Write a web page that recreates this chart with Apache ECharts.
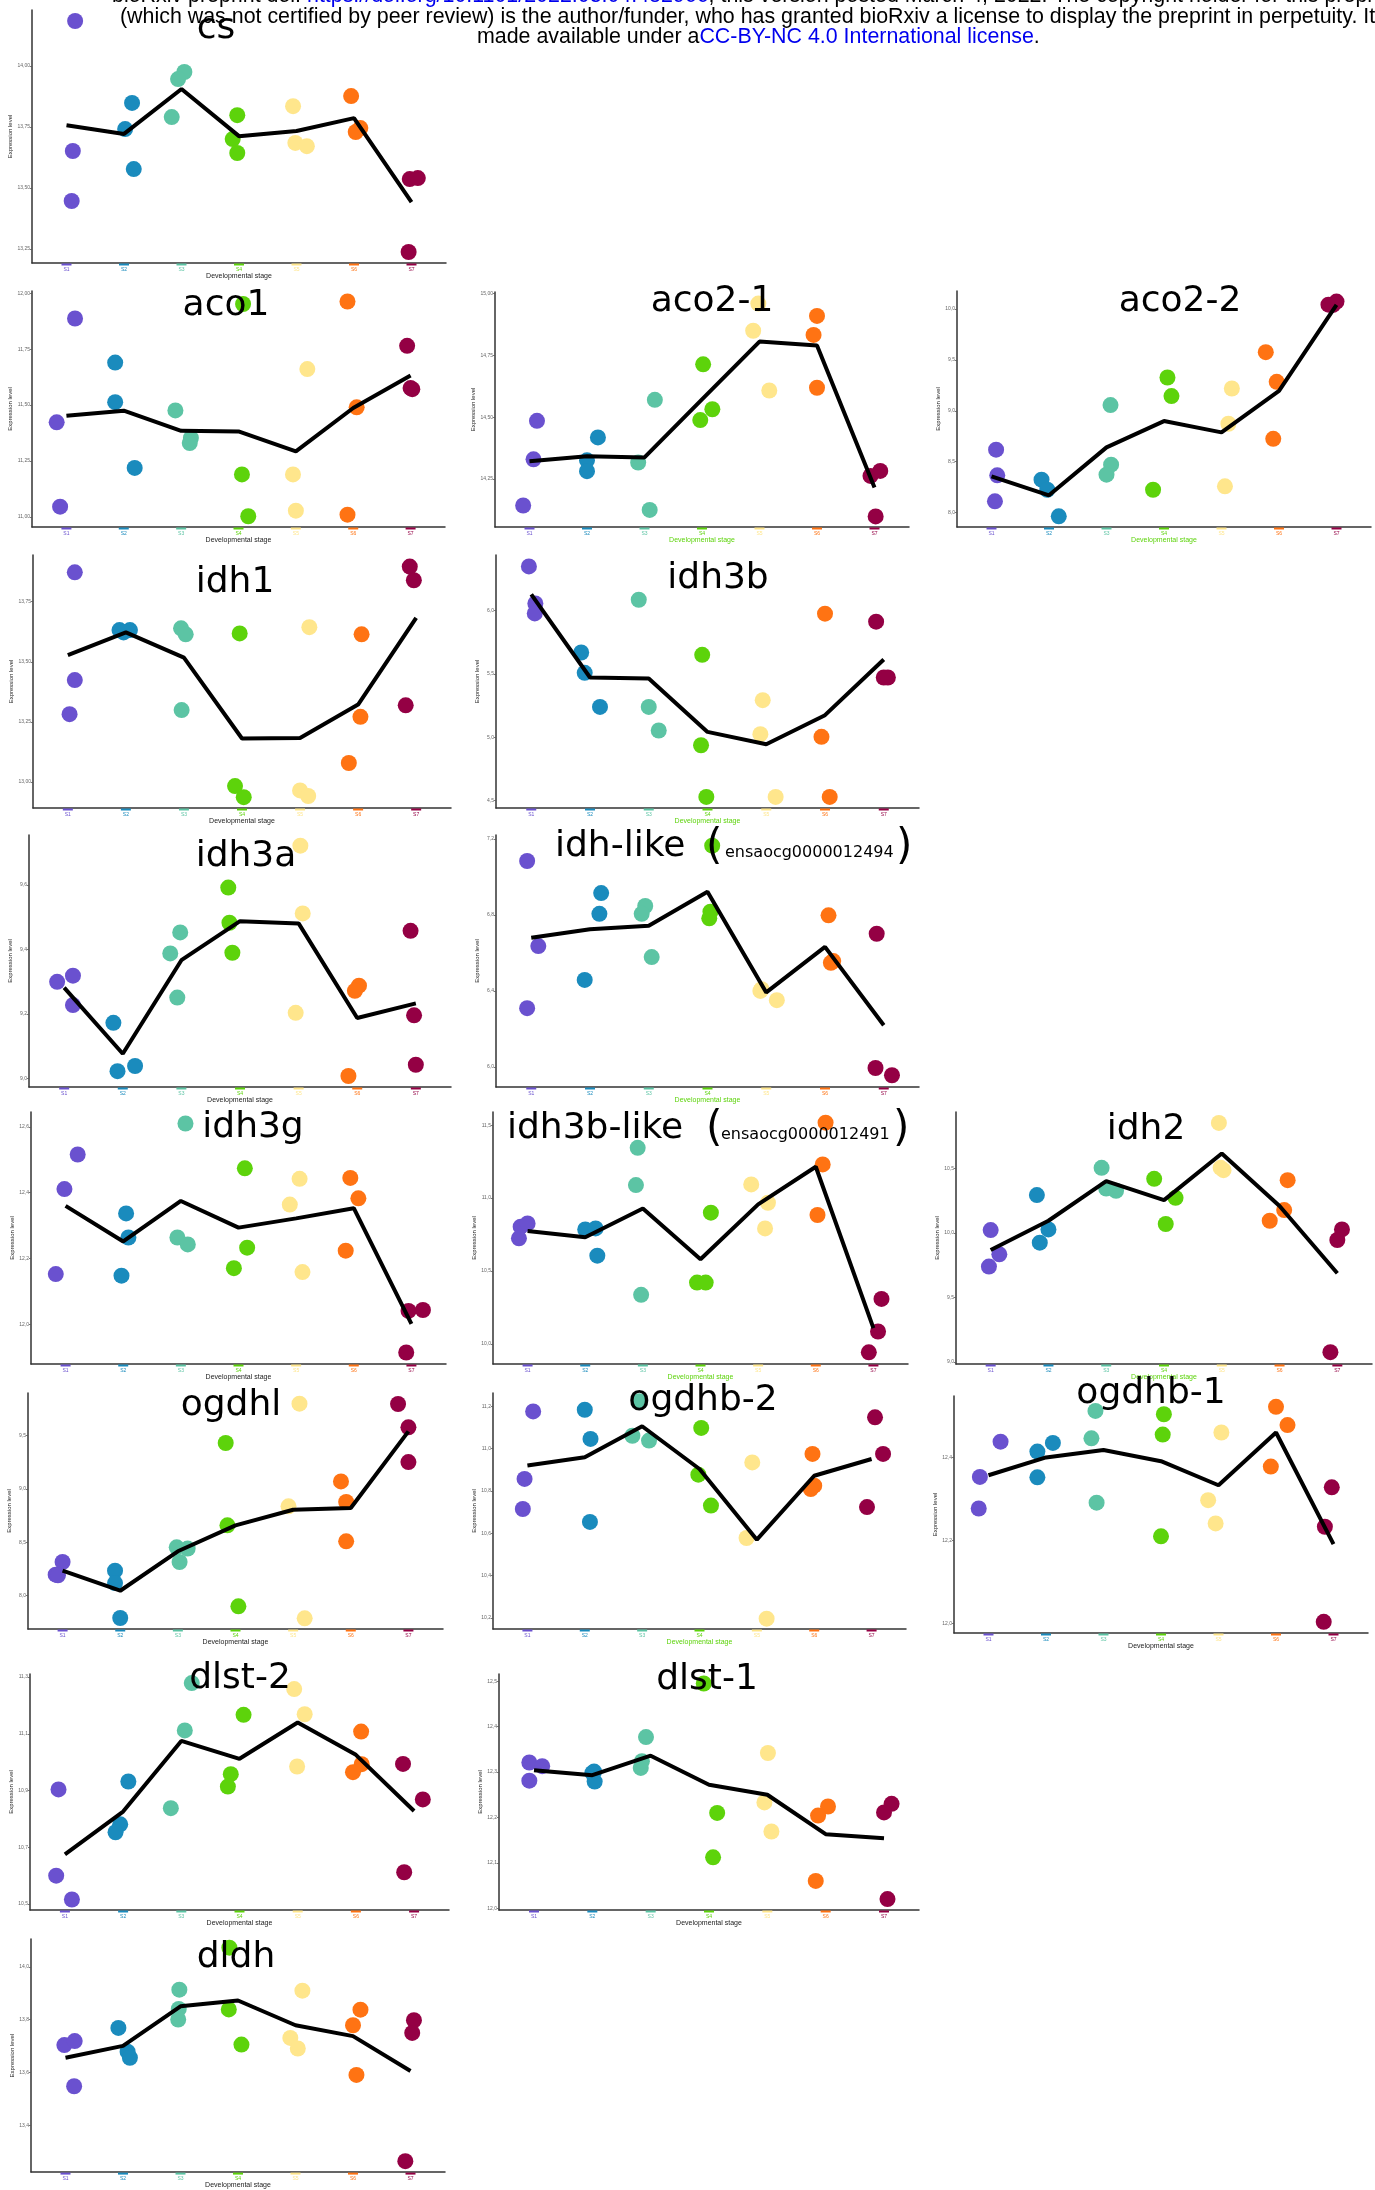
<!doctype html>
<html>
<head>
<meta charset="utf-8">
<title>TCA cycle genes - expression by developmental stage</title>
<script src="https://cdn.jsdelivr.net/npm/echarts@6/dist/echarts.min.js"></script>
<style>
  html, body { margin: 0; padding: 0; background: #fff; }
  #chart { width: 1375px; height: 2190px; }
</style>
</head>
<body>
<div id="chart"></div>
<script>
// stages (x axis categories)
var stages = ['S1', 'S2', 'S3', 'S4', 'S5', 'S6', 'S7'];

// each panel: 21 samples (3 per stage, S1..S7), x jitter, stage means, y tick values
var csY = [14.185, 13.652, 13.447, 13.849, 13.742, 13.578, 13.976, 13.947, 13.791, 13.799, 13.701, 13.644, 13.836, 13.685, 13.672, 13.877, 13.746, 13.730, 13.537, 13.541, 13.238];
var csDx = [0.15, 0.11, 0.09, 0.14, 0.02, 0.17, 0.05, -0.06, -0.17, -0.03, -0.11, -0.03, -0.06, -0.02, 0.18, -0.05, 0.11, 0.03, -0.03, 0.11, -0.05];
var csMean = [13.758, 13.722, 13.906, 13.713, 13.734, 13.787, 13.443];
var csTicks = [13.25, 13.5, 13.75, 14.0];

var aco1Y = [11.887, 11.423, 11.046, 11.690, 11.513, 11.219, 11.476, 11.353, 11.330, 11.952, 11.190, 11.003, 11.661, 11.190, 11.028, 11.963, 11.490, 11.010, 11.765, 11.576, 11.571];
var aco1Dx = [0.15, -0.17, -0.11, -0.15, -0.15, 0.19, -0.10, 0.17, 0.15, 0.08, 0.06, 0.17, 0.20, -0.05, 0, -0.10, 0.06, -0.10, -0.06, 0, 0.03];
var aco1Mean = [11.452, 11.475, 11.385, 11.382, 11.293, 11.487, 11.632];
var aco1Ticks = [11.0, 11.25, 11.5, 11.75, 12.0];

var aco21Y = [14.485, 14.329, 14.142, 14.418, 14.325, 14.281, 14.570, 14.316, 14.124, 14.714, 14.532, 14.488, 14.960, 14.850, 14.608, 14.910, 14.833, 14.619, 14.262, 14.282, 14.098];
var aco21Dx = [0.13, 0.07, -0.11, 0.19, 0, 0, 0.18, -0.11, 0.09, 0.02, 0.18, -0.03, -0.02, -0.11, 0.17, 0, -0.06, 0, -0.07, 0.10, 0.02];
var aco21Mean = [14.321, 14.342, 14.337, 14.572, 14.806, 14.790, 14.215];
var aco21Ticks = [14.25, 14.5, 14.75, 15.0];

var aco22Y = [8.618, 8.366, 8.111, 8.324, 8.225, 7.964, 9.056, 8.471, 8.373, 9.327, 9.144, 8.225, 9.219, 8.873, 8.258, 9.575, 9.284, 8.725, 10.042, 10.072, 10.039];
var aco22Dx = [0.08, 0.10, 0.06, -0.13, -0.03, 0.17, 0.07, 0.08, 0, 0.06, 0.13, -0.19, 0.18, 0.12, 0.06, -0.23, -0.04, -0.10, -0.14, 0, -0.06];
var aco22Mean = [8.356, 8.170, 8.641, 8.899, 8.788, 9.196, 10.039];
var aco22Ticks = [8.0, 8.5, 9.0, 9.5, 10.0];

var idh1Y = [13.872, 13.424, 13.282, 13.632, 13.632, 13.622, 13.639, 13.614, 13.299, 13.618, 12.983, 12.937, 13.644, 12.965, 12.942, 13.614, 13.271, 13.079, 13.896, 13.839, 13.319];
var idh1Dx = [0.12, 0.12, 0.03, -0.11, 0.07, -0.04, -0.05, 0.03, -0.04, -0.04, -0.12, 0.03, 0.16, 0, 0.14, 0.06, 0.04, -0.16, -0.11, -0.04, -0.18];
var idh1Mean = [13.528, 13.622, 13.517, 13.181, 13.183, 13.322, 13.683];
var idh1Ticks = [13.0, 13.25, 13.5, 13.75];

var idh3bY = [6.347, 6.055, 5.976, 5.668, 5.508, 5.239, 6.084, 5.239, 5.053, 5.650, 4.937, 4.529, 5.292, 5.024, 4.529, 5.974, 5.003, 4.529, 5.911, 5.471, 5.471];
var idh3bDx = [-0.04, 0.07, 0.06, -0.15, -0.09, 0.17, -0.17, 0, 0.17, -0.09, -0.11, -0.02, -0.06, -0.10, 0.16, 0, -0.06, 0.08, -0.13, 0, 0.07];
var idh3bMean = [6.126, 5.471, 5.463, 5.042, 4.945, 5.174, 5.613];
var idh3bTicks = [4.5, 5.0, 5.5, 6.0];

var idh3aY = [9.300, 9.319, 9.228, 9.173, 9.023, 9.039, 9.453, 9.388, 9.251, 9.592, 9.483, 9.390, 9.722, 9.512, 9.204, 9.288, 9.272, 9.008, 9.458, 9.196, 9.043];
var idh3aDx = [-0.12, 0.15, 0.15, -0.16, -0.09, 0.21, -0.02, -0.19, -0.07, -0.20, -0.18, -0.13, 0.03, 0.07, -0.05, 0.03, -0.04, -0.15, -0.09, -0.03, 0];
var idh3aMean = [9.282, 9.077, 9.367, 9.488, 9.481, 9.188, 9.233];
var idh3aTicks = [9.0, 9.2, 9.4, 9.6];

var idhLikeY = [7.084, 6.636, 6.309, 6.915, 6.806, 6.458, 6.847, 6.806, 6.578, 7.165, 6.817, 6.782, 6.409, 6.351, 6.400, 6.798, 6.557, 6.548, 6.701, 5.994, 5.956];
var idhLikeDx = [-0.07, 0.12, -0.07, 0.19, 0.16, -0.09, -0.06, -0.12, 0.05, 0.08, 0.05, 0.03, -0.08, 0.18, -0.10, 0.06, 0.14, 0.10, -0.12, -0.14, 0.14];
var idhLikeMean = [6.680, 6.725, 6.743, 6.922, 6.392, 6.632, 6.219];
var idhLikeTicks = [6.0, 6.4, 6.8, 7.2];

var idh3gY = [12.516, 12.411, 12.153, 12.337, 12.264, 12.148, 12.610, 12.264, 12.243, 12.474, 12.233, 12.171, 12.442, 12.364, 12.159, 12.445, 12.383, 12.224, 12.041, 12.044, 11.915];
var idh3gDx = [0.21, -0.02, -0.17, 0.05, 0.09, -0.03, 0.08, -0.06, 0.12, 0.11, 0.15, -0.08, 0.06, -0.11, 0.11, -0.06, 0.08, -0.14, -0.05, 0.20, -0.09];
var idh3gMean = [12.360, 12.252, 12.375, 12.294, 12.322, 12.353, 12.002];
var idh3gTicks = [12.0, 12.2, 12.4, 12.6];

var idh3bLikeY = [10.804, 10.826, 10.724, 10.785, 10.792, 10.605, 11.345, 11.089, 10.336, 10.900, 10.420, 10.420, 11.094, 10.968, 10.792, 11.518, 11.231, 10.884, 10.308, 10.084, 9.941];
var idh3bLikeDx = [-0.12, 0, -0.15, 0, 0.18, 0.21, -0.09, -0.12, -0.03, 0.18, -0.06, 0.09, -0.12, 0.17, 0.12, 0.17, 0.12, 0.03, 0.14, 0.08, -0.08];
var idh3bLikeMean = [10.774, 10.731, 10.929, 10.580, 10.957, 11.215, 10.107];
var idh3bLikeTicks = [10.0, 10.5, 11.0, 11.5];

var idh2Y = [10.023, 9.835, 9.740, 10.294, 10.028, 9.925, 10.505, 10.345, 10.327, 10.420, 10.273, 10.070, 10.853, 10.487, 10.505, 10.410, 10.178, 10.095, 10.028, 9.946, 9.077];
var idh2Dx = [0, 0.15, -0.03, -0.20, 0, -0.15, -0.08, 0, 0.17, -0.17, 0.20, 0.03, -0.05, 0.03, -0.02, 0.14, 0.08, -0.17, 0.08, 0, -0.12];
var idh2Mean = [9.869, 10.095, 10.402, 10.255, 10.616, 10.209, 9.688];
var idh2Ticks = [9.0, 9.5, 10.0, 10.5];

var ogdhlY = [8.315, 8.196, 8.191, 8.234, 8.118, 7.791, 8.452, 8.440, 8.315, 9.428, 8.658, 7.900, 9.796, 8.836, 7.788, 9.069, 8.876, 8.508, 9.793, 9.575, 9.250];
var ogdhlDx = [0, -0.12, -0.08, -0.09, -0.09, 0, -0.02, 0.17, 0.03, -0.17, -0.14, 0.05, 0.11, -0.08, 0.20, -0.17, -0.08, -0.08, -0.18, 0, 0];
var ogdhlMean = [8.234, 8.046, 8.415, 8.658, 8.804, 8.820, 9.537];
var ogdhlTicks = [8.0, 8.5, 9.0, 9.5];

var ogdhb2Y = [11.176, 10.857, 10.715, 11.184, 11.046, 10.654, 11.224, 11.061, 11.038, 11.098, 10.877, 10.731, 10.935, 10.197, 10.578, 10.975, 10.825, 10.809, 11.148, 10.975, 10.724];
var ogdhb2Dx = [0.10, -0.05, -0.08, 0, 0.10, 0.09, -0.05, -0.17, 0.12, 0.03, -0.02, 0.20, -0.08, 0.17, -0.18, -0.03, 0, -0.06, 0.06, 0.20, -0.08];
var ogdhb2Mean = [10.920, 10.959, 11.106, 10.904, 10.570, 10.872, 10.951];
var ogdhb2Ticks = [10.2, 10.4, 10.6, 10.8, 11.0, 11.2];

var ogdhb1Y = [12.438, 12.353, 12.277, 12.435, 12.414, 12.352, 12.512, 12.446, 12.291, 12.504, 12.455, 12.210, 12.460, 12.297, 12.241, 12.522, 12.478, 12.378, 12.328, 12.233, 12.004];
var ogdhb1Dx = [0.21, -0.15, -0.17, 0.12, -0.15, -0.15, -0.14, -0.21, -0.12, 0.05, 0.03, 0, 0.05, -0.18, -0.05, 0, 0.20, -0.09, -0.03, -0.15, -0.17];
var ogdhb1Mean = [12.357, 12.400, 12.418, 12.391, 12.333, 12.460, 12.191];
var ogdhb1Ticks = [12.0, 12.2, 12.4];

var dlst2Y = [10.904, 10.600, 10.516, 10.932, 10.781, 10.753, 11.279, 11.112, 10.838, 11.167, 10.958, 10.914, 11.258, 11.169, 10.985, 11.108, 10.993, 10.965, 10.994, 10.869, 10.612];
var dlst2Dx = [-0.11, -0.15, 0.12, 0.09, -0.05, -0.13, 0.18, 0.06, -0.18, 0.07, -0.15, -0.20, -0.06, 0.12, -0.01, 0.09, 0.10, -0.05, -0.19, 0.15, -0.17];
var dlst2Mean = [10.675, 10.826, 11.075, 11.012, 11.140, 11.026, 10.828];
var dlst2Ticks = [10.5, 10.7, 10.9, 11.1, 11.3];

var dlst1Y = [12.321, 12.313, 12.281, 12.301, 12.298, 12.279, 12.377, 12.309, 12.324, 12.495, 12.210, 12.112, 12.342, 12.233, 12.169, 12.224, 12.204, 12.060, 12.230, 12.211, 12.020];
var dlst1Dx = [-0.08, 0.14, -0.08, 0.03, 0, 0.04, -0.08, -0.17, -0.15, -0.09, 0.14, 0.07, 0.01, -0.05, 0.07, 0.04, -0.13, -0.17, 0.13, 0, 0.06];
var dlst1Mean = [12.304, 12.293, 12.336, 12.272, 12.250, 12.163, 12.154];
var dlst1Ticks = [12.0, 12.1, 12.2, 12.3, 12.4, 12.5];

var dldhY = [13.704, 13.719, 13.548, 13.769, 13.679, 13.656, 13.914, 13.841, 13.801, 14.073, 13.839, 13.706, 13.910, 13.731, 13.691, 13.838, 13.779, 13.591, 13.798, 13.750, 13.264];
var dldhDx = [-0.02, 0.16, 0.15, -0.08, 0.08, 0.12, -0.02, -0.03, -0.04, -0.15, -0.16, 0.06, 0.12, -0.09, 0.04, 0.13, 0, 0.06, 0.06, 0.03, -0.09];
var dldhMean = [13.656, 13.701, 13.851, 13.873, 13.779, 13.738, 13.606];
var dldhTicks = [13.4, 13.6, 13.8, 14.0];

// stage colours
var stageColors = ['#6a51cf', '#1a8bbd', '#5cc4a4', '#5dd30b', '#ffe68c', '#ff7313', '#940044'];

// panel layout: name, data, box [left, top, right, bottom], y range, x-name colour
var panels = [
  { name: 'cs', y: csY, dx: csDx, mean: csMean, ticks: csTicks, box: [32, 10, 446, 263], yr: [13.193, 14.230], green: false },
  { name: 'aco1', y: aco1Y, dx: aco1Dx, mean: aco1Mean, ticks: aco1Ticks, box: [32, 291, 445, 527], yr: [10.955, 12.010], green: false },
  { name: 'aco2-1', y: aco21Y, dx: aco21Dx, mean: aco21Mean, ticks: aco21Ticks, box: [495, 292, 909, 527], yr: [14.055, 15.007], green: true },
  { name: 'aco2-2', y: aco22Y, dx: aco22Dx, mean: aco22Mean, ticks: aco22Ticks, box: [957, 291, 1371, 527], yr: [7.859, 10.176], green: true },
  { name: 'idh1', y: idh1Y, dx: idh1Dx, mean: idh1Mean, ticks: idh1Ticks, box: [33, 555, 451, 808], yr: [12.892, 13.944], green: false },
  { name: 'idh3b', y: idh3bY, dx: idh3bDx, mean: idh3bMean, ticks: idh3bTicks, box: [496, 555, 919, 808], yr: [4.442, 6.437], green: true },
  { name: 'idh3a', y: idh3aY, dx: idh3aDx, mean: idh3aMean, ticks: idh3aTicks, box: [29, 835, 451, 1087], yr: [8.974, 9.755], green: false },
  { name: 'idh-like', y: idhLikeY, dx: idhLikeDx, mean: idhLikeMean, ticks: idhLikeTicks, box: [496, 835, 919, 1087], yr: [5.894, 7.221], green: true },
  { name: 'idh3g', y: idh3gY, dx: idh3gDx, mean: idh3gMean, ticks: idh3gTicks, box: [31, 1112, 446, 1364], yr: [11.880, 12.645], green: false },
  { name: 'idh3b-like', y: idh3bLikeY, dx: idh3bLikeDx, mean: idh3bLikeMean, ticks: idh3bLikeTicks, box: [493, 1112, 908, 1364], yr: [9.861, 11.591], green: true },
  { name: 'idh2', y: idh2Y, dx: idh2Dx, mean: idh2Mean, ticks: idh2Ticks, box: [956, 1112, 1372, 1364], yr: [8.985, 10.938], green: true },
  { name: 'ogdhl', y: ogdhlY, dx: ogdhlDx, mean: ogdhlMean, ticks: ogdhlTicks, box: [28, 1393, 443, 1629], yr: [7.688, 9.896], green: false },
  { name: 'ogdhb-2', y: ogdhb2Y, dx: ogdhb2Dx, mean: ogdhb2Mean, ticks: ogdhb2Ticks, box: [493, 1393, 906, 1629], yr: [10.148, 11.263], green: true },
  { name: 'ogdhb-1', y: ogdhb1Y, dx: ogdhb1Dx, mean: ogdhb1Mean, ticks: ogdhb1Ticks, box: [954, 1396, 1368, 1633], yr: [11.977, 12.548], green: false },
  { name: 'dlst-2', y: dlst2Y, dx: dlst2Dx, mean: dlst2Mean, ticks: dlst2Ticks, box: [30, 1674, 449, 1910], yr: [10.479, 11.311], green: false },
  { name: 'dlst-1', y: dlst1Y, dx: dlst1Dx, mean: dlst1Mean, ticks: dlst1Ticks, box: [499, 1674, 919, 1910], yr: [11.996, 12.516], green: false },
  { name: 'dldh', y: dldhY, dx: dldhDx, mean: dldhMean, ticks: dldhTicks, box: [31, 1939, 445, 2175], yr: [13.2225, 14.106], green: false }
];

// plain titles: name, centre x, baseline y
var titles = [
  ['cs', 216, 40], ['aco1', 226, 317], ['aco2-1', 712, 313], ['aco2-2', 1180, 313],
  ['idh1', 235, 594], ['idh3b', 718, 590], ['idh3a', 246, 868],
  ['idh3g', 253, 1139], ['idh2', 1146, 1141],
  ['ogdhl', 231, 1417], ['ogdhb-2', 703, 1412], ['ogdhb-1', 1151, 1405],
  ['dlst-2', 240, 1690], ['dlst-1', 707, 1691], ['dldh', 236, 1969]
];

var TITLE_FONT = '36px "DejaVu Sans"';
var stageX = [1, 2, 3, 4, 5, 6, 7];

var chart = echarts.init(document.getElementById('chart'), null, { renderer: 'canvas' });

var option = {
  animation: false,
  backgroundColor: '#ffffff',
  grid: [],
  xAxis: [],
  yAxis: [],
  series: [],
  graphic: []
};

var labelRich = {};
stageColors.forEach(function (c, k) {
  labelRich['b' + (k + 1)] = { backgroundColor: c, width: 10, height: 2, fontSize: 2, lineHeight: 3 };
  labelRich['t' + (k + 1)] = { color: c, fontSize: 5, lineHeight: 7, fontFamily: 'Liberation Sans' };
});

panels.forEach(function (p, i) {
  var b = p.box;
  var dec = p.ticks.some(function (t) { return Math.abs(t * 10 - Math.round(t * 10)) > 1e-6; }) ? 2 : 1;
  option.grid.push({ left: b[0], top: b[1], width: b[2] - b[0], height: b[3] - b[1] });
  option.xAxis.push({
    type: 'value', gridIndex: i, min: 0.4, max: 7.6,
    splitLine: { show: false },
    axisLine: { show: true, onZero: false, lineStyle: { color: '#333', width: 1.5 } },
    axisTick: { show: false },
    axisLabel: {
      customValues: stageX, margin: 0, rich: labelRich,
      formatter: function (v) { var k = Math.round(v); return '{b' + k + '| }\n{t' + k + '|' + stages[k - 1] + '}'; }
    },
    name: 'Developmental stage', nameLocation: 'middle', nameGap: 9,
    nameTextStyle: { fontSize: 7, color: p.green ? '#5dd30b' : '#222', fontFamily: 'Liberation Sans' }
  });
  option.yAxis.push({
    type: 'value', gridIndex: i, min: p.yr[0], max: p.yr[1],
    splitLine: { show: false },
    axisLine: { show: true, onZero: false, lineStyle: { color: '#333', width: 1.5 } },
    axisTick: { show: true, customValues: p.ticks, length: 2, lineStyle: { color: '#555', width: 0.8 } },
    axisLabel: {
      customValues: p.ticks, fontSize: 5, color: '#666', margin: 2, fontFamily: 'Liberation Sans',
      formatter: function (v) { return v.toFixed(dec).replace('.', ','); }
    },
    name: 'Expression level', nameLocation: 'middle', nameGap: 16, nameRotate: 90,
    nameTextStyle: { fontSize: 6, color: '#222', fontFamily: 'Liberation Sans' }
  });
  var pts = p.y.map(function (v, j) {
    var s = Math.floor(j / 3);
    return { value: [s + 1 + p.dx[j], v], itemStyle: { color: stageColors[s] } };
  });
  option.series.push({
    type: 'scatter', xAxisIndex: i, yAxisIndex: i, symbolSize: 16, data: pts, z: 2,
    itemStyle: { opacity: 1 }, silent: true
  });
  option.series.push({
    type: 'line', xAxisIndex: i, yAxisIndex: i, symbol: 'none', z: 3, silent: true,
    lineStyle: { color: '#000', width: 4 },
    data: p.mean.map(function (m, k) { return [stageX[k], m]; })
  });
});

function txt(x, y, text, font, extra) {
  var st = { text: text, font: font, fill: '#000', align: 'center', verticalAlign: 'middle', textAlign: 'center', textVerticalAlign: 'middle' };
  if (extra) { for (var k in extra) st[k] = extra[k]; }
  return { type: 'text', x: x, y: y, z: 100, silent: true, style: st };
}

// plain panel titles (baseline -> middle)
titles.forEach(function (t) {
  option.graphic.push(txt(t[1], t[2] - 11, t[0], TITLE_FONT));
});

// titles with a small gene id between parentheses
function idTitle(left, base, main, parenL, small, smallL, parenR) {
  option.graphic.push(txt(left, base - 11, main, TITLE_FONT, { align: 'left', textAlign: 'left' }));
  option.graphic.push(txt(parenL, base - 10, '(', '42px "DejaVu Sans"', { align: 'left', textAlign: 'left' }));
  option.graphic.push(txt(smallL, base - 5, small, '16px "DejaVu Sans"', { align: 'left', textAlign: 'left' }));
  option.graphic.push(txt(parenR, base - 10, ')', '42px "DejaVu Sans"', { align: 'left', textAlign: 'left' }));
}
idTitle(555, 858, 'idh-like', 706, 'ensaocg0000012494', 725, 896);
idTitle(507, 1140, 'idh3b-like', 706, 'ensaocg0000012491', 721, 893);

// bioRxiv header
var HEAD_FONT = '21.4px "Liberation Sans"';
var headRich = {
  k: { fill: '#000', color: '#000', font: HEAD_FONT },
  l: { fill: '#0000ee', color: '#0000ee', font: HEAD_FONT }
};
option.graphic.push({
  type: 'text', x: 112, y: -4, z: 100, silent: true,
  style: {
    text: '{k|bioRxiv preprint doi: }{l|https://doi.org/10.1101/2022.03.04.482966}{k|; this version posted March 4, 2022. The copyright holder for this preprint}',
    rich: headRich, font: HEAD_FONT, align: 'left', verticalAlign: 'middle', textAlign: 'left', textVerticalAlign: 'middle'
  }
});
option.graphic.push({
  type: 'text', x: 120, y: 17, z: 100, silent: true,
  style: {
    text: '(which was not certified by peer review) is the author/funder, who has granted bioRxiv a license to display the preprint in perpetuity. It is',
    font: HEAD_FONT, fill: '#000', align: 'left', verticalAlign: 'middle', textAlign: 'left', textVerticalAlign: 'middle'
  }
});
option.graphic.push({
  type: 'text', x: 477, y: 37, z: 100, silent: true,
  style: {
    text: '{k|made available under a}{l|CC-BY-NC 4.0 International license}{k|.}',
    rich: headRich, font: HEAD_FONT, align: 'left', verticalAlign: 'middle', textAlign: 'left', textVerticalAlign: 'middle'
  }
});

chart.setOption(option);
</script>
</body>
</html>
